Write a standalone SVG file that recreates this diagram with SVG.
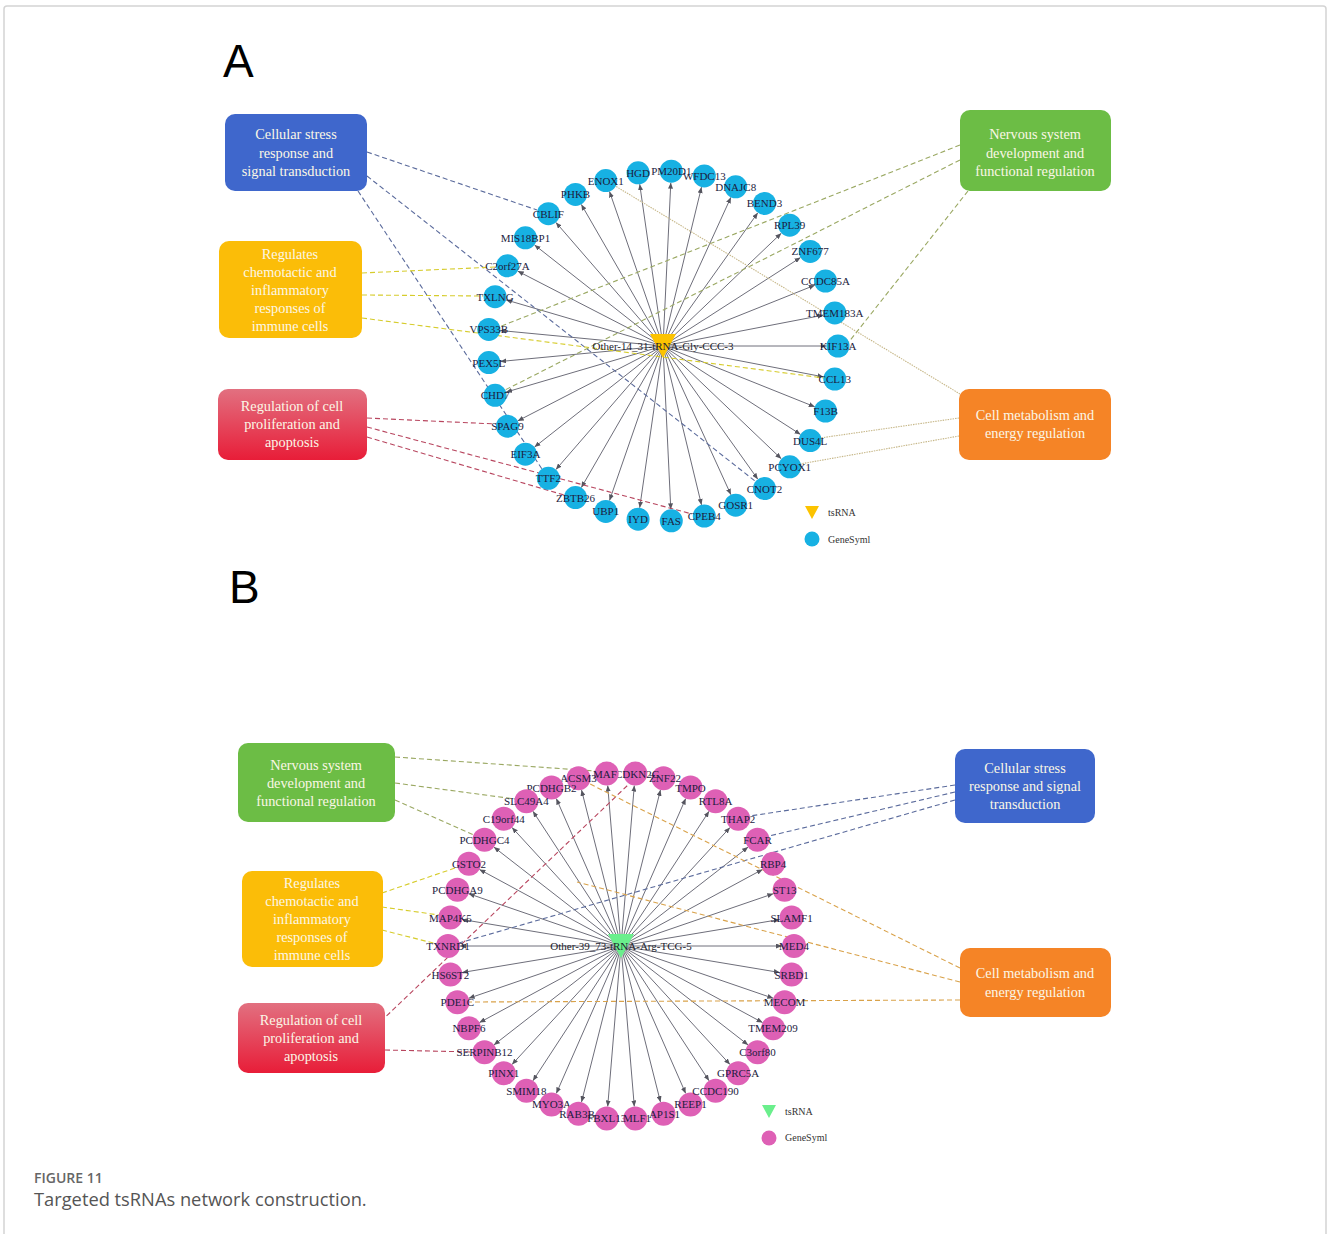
<svg xmlns="http://www.w3.org/2000/svg" width="1328" height="1234" viewBox="0 0 1328 1234">
<style>
.edge{stroke:#6e6e7a;stroke-width:1;fill:none}
.dl{fill:none;stroke-width:1.1;stroke-dasharray:5,3}
.dblue{stroke:#5b6b9c}
.dyel{stroke:#d6cc2c}
.dred{stroke:#b8465f}
.dgrn{stroke:#9aa862}
.dorgA{stroke:#c7b88a;stroke-dasharray:1.5,1}
.dorgB{stroke:#d9a24a}
.ga{fill:#17b1e3}
.gb{fill:#de60b5}
.lbl{font-family:"Liberation Serif","Times New Roman",serif;font-size:11px;fill:#1c1c3e;text-anchor:middle}
.ctr{font-family:"Liberation Serif","Times New Roman",serif;font-size:11px;fill:#1c1c2c;text-anchor:middle}
.bt{font-family:"Liberation Serif","Times New Roman",serif;font-size:14.3px;fill:#fbf7e6;text-anchor:middle}
.leg{font-family:"Liberation Serif","Times New Roman",serif;font-size:10px;fill:#333}
.pl{font-family:"Liberation Sans",Arial,sans-serif;font-size:46px;fill:#000}
</style>
<defs>
<marker id="ar" viewBox="0 0 6 5" markerWidth="6" markerHeight="5" refX="6" refY="2.5" orient="auto" markerUnits="userSpaceOnUse">
<path d="M0,0 L6,2.5 L0,5 z" fill="#55555f"/>
</marker>
<linearGradient id="redg" x1="0" y1="0" x2="0" y2="1">
<stop offset="0" stop-color="#e27080"/>
<stop offset="1" stop-color="#e81d38"/>
</linearGradient>
</defs>
<rect x="4" y="6" width="1322" height="1240" rx="3" fill="#fff" stroke="#d4d4d4" stroke-width="1.5"/>
<text class="pl" x="223" y="77">A</text>
<text class="pl" x="229" y="603">B</text>

<g id="connectors">
<g id="edgesA">
<path class="edge" d="M663,346 L826.5,346" marker-end="url(#ar)"/>
<path class="edge" d="M663,346 L823.5,315.1" marker-end="url(#ar)"/>
<path class="edge" d="M663,346 L814.8,285.2" marker-end="url(#ar)"/>
<path class="edge" d="M663,346 L800.5,257.6" marker-end="url(#ar)"/>
<path class="edge" d="M663,346 L781.3,233.2" marker-end="url(#ar)"/>
<path class="edge" d="M663,346 L757.8,212.8" marker-end="url(#ar)"/>
<path class="edge" d="M663,346 L730.9,197.3" marker-end="url(#ar)"/>
<path class="edge" d="M663,346 L701.5,187.1" marker-end="url(#ar)"/>
<path class="edge" d="M663,346 L670.8,182.7" marker-end="url(#ar)"/>
<path class="edge" d="M663,346 L639.7,184.2" marker-end="url(#ar)"/>
<path class="edge" d="M663,346 L609.5,191.5" marker-end="url(#ar)"/>
<path class="edge" d="M663,346 L581.3,204.4" marker-end="url(#ar)"/>
<path class="edge" d="M663,346 L555.9,222.4" marker-end="url(#ar)"/>
<path class="edge" d="M663,346 L534.5,244.9" marker-end="url(#ar)"/>
<path class="edge" d="M663,346 L517.7,271.1" marker-end="url(#ar)"/>
<path class="edge" d="M663,346 L506.1,299.9" marker-end="url(#ar)"/>
<path class="edge" d="M663,346 L500.2,330.5" marker-end="url(#ar)"/>
<path class="edge" d="M663,346 L500.2,361.5" marker-end="url(#ar)"/>
<path class="edge" d="M663,346 L506.1,392.1" marker-end="url(#ar)"/>
<path class="edge" d="M663,346 L517.7,420.9" marker-end="url(#ar)"/>
<path class="edge" d="M663,346 L534.5,447.1" marker-end="url(#ar)"/>
<path class="edge" d="M663,346 L555.9,469.6" marker-end="url(#ar)"/>
<path class="edge" d="M663,346 L581.3,487.6" marker-end="url(#ar)"/>
<path class="edge" d="M663,346 L609.5,500.5" marker-end="url(#ar)"/>
<path class="edge" d="M663,346 L639.7,507.8" marker-end="url(#ar)"/>
<path class="edge" d="M663,346 L670.8,509.3" marker-end="url(#ar)"/>
<path class="edge" d="M663,346 L701.5,504.9" marker-end="url(#ar)"/>
<path class="edge" d="M663,346 L730.9,494.7" marker-end="url(#ar)"/>
<path class="edge" d="M663,346 L757.8,479.2" marker-end="url(#ar)"/>
<path class="edge" d="M663,346 L781.3,458.8" marker-end="url(#ar)"/>
<path class="edge" d="M663,346 L800.5,434.4" marker-end="url(#ar)"/>
<path class="edge" d="M663,346 L814.8,406.8" marker-end="url(#ar)"/>
<path class="edge" d="M663,346 L823.5,376.9" marker-end="url(#ar)"/>
</g>
<g id="edgesB">
<path class="edge" d="M621,946 L782,946" marker-end="url(#ar)"/>
<path class="edge" d="M621,946 L779.8,919.5" marker-end="url(#ar)"/>
<path class="edge" d="M621,946 L773.3,893.7" marker-end="url(#ar)"/>
<path class="edge" d="M621,946 L762.6,869.4" marker-end="url(#ar)"/>
<path class="edge" d="M621,946 L748.1,847.1" marker-end="url(#ar)"/>
<path class="edge" d="M621,946 L730,827.5" marker-end="url(#ar)"/>
<path class="edge" d="M621,946 L709.1,811.2" marker-end="url(#ar)"/>
<path class="edge" d="M621,946 L685.7,798.6" marker-end="url(#ar)"/>
<path class="edge" d="M621,946 L660.5,789.9" marker-end="url(#ar)"/>
<path class="edge" d="M621,946 L634.3,785.5" marker-end="url(#ar)"/>
<path class="edge" d="M621,946 L607.7,785.5" marker-end="url(#ar)"/>
<path class="edge" d="M621,946 L581.5,789.9" marker-end="url(#ar)"/>
<path class="edge" d="M621,946 L556.3,798.6" marker-end="url(#ar)"/>
<path class="edge" d="M621,946 L532.9,811.2" marker-end="url(#ar)"/>
<path class="edge" d="M621,946 L512,827.5" marker-end="url(#ar)"/>
<path class="edge" d="M621,946 L493.9,847.1" marker-end="url(#ar)"/>
<path class="edge" d="M621,946 L479.4,869.4" marker-end="url(#ar)"/>
<path class="edge" d="M621,946 L468.7,893.7" marker-end="url(#ar)"/>
<path class="edge" d="M621,946 L462.2,919.5" marker-end="url(#ar)"/>
<path class="edge" d="M621,946 L460,946" marker-end="url(#ar)"/>
<path class="edge" d="M621,946 L462.2,972.5" marker-end="url(#ar)"/>
<path class="edge" d="M621,946 L468.7,998.3" marker-end="url(#ar)"/>
<path class="edge" d="M621,946 L479.4,1022.6" marker-end="url(#ar)"/>
<path class="edge" d="M621,946 L493.9,1044.9" marker-end="url(#ar)"/>
<path class="edge" d="M621,946 L512,1064.5" marker-end="url(#ar)"/>
<path class="edge" d="M621,946 L532.9,1080.8" marker-end="url(#ar)"/>
<path class="edge" d="M621,946 L556.3,1093.4" marker-end="url(#ar)"/>
<path class="edge" d="M621,946 L581.5,1102.1" marker-end="url(#ar)"/>
<path class="edge" d="M621,946 L607.7,1106.5" marker-end="url(#ar)"/>
<path class="edge" d="M621,946 L634.3,1106.5" marker-end="url(#ar)"/>
<path class="edge" d="M621,946 L660.5,1102.1" marker-end="url(#ar)"/>
<path class="edge" d="M621,946 L685.7,1093.4" marker-end="url(#ar)"/>
<path class="edge" d="M621,946 L709.1,1080.8" marker-end="url(#ar)"/>
<path class="edge" d="M621,946 L730,1064.5" marker-end="url(#ar)"/>
<path class="edge" d="M621,946 L748.1,1044.9" marker-end="url(#ar)"/>
<path class="edge" d="M621,946 L762.6,1022.6" marker-end="url(#ar)"/>
<path class="edge" d="M621,946 L773.3,998.3" marker-end="url(#ar)"/>
<path class="edge" d="M621,946 L779.8,972.5" marker-end="url(#ar)"/>
</g>
<g id="categoryLinksA">
<path class="dl dblue" d="M367,152 L537,210"/>
<path class="dl dblue" d="M367,176 L755,481"/>
<path class="dl dblue" d="M358,191 L542,469"/>
<path class="dl dyel" d="M362,273 L496,267"/>
<path class="dl dyel" d="M362,295 L483,296"/>
<path class="dl dyel" d="M362,318 L824,378"/>
<path class="dl dred" d="M367,418 L496,424"/>
<path class="dl dred" d="M367,427 L692,514"/>
<path class="dl dred" d="M367,437 L564,495"/>
<path class="dl dgrn" d="M960,145 L499,327"/>
<path class="dl dgrn" d="M960,160 L505,390"/>
<path class="dl dgrn" d="M968,191 L848,343"/>
<path class="dl dorgA" d="M960,394 L612,184"/>
<path class="dl dorgA" d="M959,418 L820,438"/>
<path class="dl dorgA" d="M959,436 L800,464"/>
</g>
<g id="categoryLinksB">
<path class="dl dgrn" d="M395,757 L595,771"/>
<path class="dl dgrn" d="M395,783 L515,799"/>
<path class="dl dgrn" d="M395,800 L474,835"/>
<path class="dl dyel" d="M382,893 L458,867"/>
<path class="dl dyel" d="M382,907 L439,915"/>
<path class="dl dyel" d="M382,930 L437,944"/>
<path class="dl dred" d="M375,1027 L629,784"/>
<path class="dl dred" d="M385,1050 L473,1052"/>
<path class="dl dblue" d="M955,785 L750,816"/>
<path class="dl dblue" d="M955,792 L769,836"/>
<path class="dl dblue" d="M955,800 L459,943"/>
<path class="dl dorgB" d="M960,968 L590,784"/>
<path class="dl dorgB" d="M960,982 L577,882"/>
<path class="dl dorgB" d="M960,1000 L469,1002"/>
</g>
</g>

<g id="nodesA">
<g id="a-KIF13A"><circle class="ga" cx="838" cy="346" r="11.5"/><text class="lbl" x="838" y="350">KIF13A</text></g>
<g id="a-TMEM183A"><circle class="ga" cx="834.8" cy="312.9" r="11.5"/><text class="lbl" x="834.8" y="316.9">TMEM183A</text></g>
<g id="a-CCDC85A"><circle class="ga" cx="825.5" cy="281" r="11.5"/><text class="lbl" x="825.5" y="285">CCDC85A</text></g>
<g id="a-ZNF677"><circle class="ga" cx="810.2" cy="251.4" r="11.5"/><text class="lbl" x="810.2" y="255.4">ZNF677</text></g>
<g id="a-RPL39"><circle class="ga" cx="789.7" cy="225.2" r="11.5"/><text class="lbl" x="789.7" y="229.2">RPL39</text></g>
<g id="a-BEND3"><circle class="ga" cx="764.5" cy="203.4" r="11.5"/><text class="lbl" x="764.5" y="207.4">BEND3</text></g>
<g id="a-DNAJC8"><circle class="ga" cx="735.7" cy="186.8" r="11.5"/><text class="lbl" x="735.7" y="190.8">DNAJC8</text></g>
<g id="a-WFDC13"><circle class="ga" cx="704.3" cy="175.9" r="11.5"/><text class="lbl" x="704.3" y="179.9">WFDC13</text></g>
<g id="a-PM20D1"><circle class="ga" cx="671.3" cy="171.2" r="11.5"/><text class="lbl" x="671.3" y="175.2">PM20D1</text></g>
<g id="a-HGD"><circle class="ga" cx="638.1" cy="172.8" r="11.5"/><text class="lbl" x="638.1" y="176.8">HGD</text></g>
<g id="a-ENOX1"><circle class="ga" cx="605.8" cy="180.6" r="11.5"/><text class="lbl" x="605.8" y="184.6">ENOX1</text></g>
<g id="a-PHKB"><circle class="ga" cx="575.5" cy="194.4" r="11.5"/><text class="lbl" x="575.5" y="198.4">PHKB</text></g>
<g id="a-CBLIF"><circle class="ga" cx="548.4" cy="213.7" r="11.5"/><text class="lbl" x="548.4" y="217.7">CBLIF</text></g>
<g id="a-MIS18BP1"><circle class="ga" cx="525.4" cy="237.8" r="11.5"/><text class="lbl" x="525.4" y="241.8">MIS18BP1</text></g>
<g id="a-C2orf27A"><circle class="ga" cx="507.5" cy="265.8" r="11.5"/><text class="lbl" x="507.5" y="269.8">C2orf27A</text></g>
<g id="a-TXLNG"><circle class="ga" cx="495.1" cy="296.7" r="11.5"/><text class="lbl" x="495.1" y="300.7">TXLNG</text></g>
<g id="a-VPS33B"><circle class="ga" cx="488.8" cy="329.4" r="11.5"/><text class="lbl" x="488.8" y="333.4">VPS33B</text></g>
<g id="a-PEX5L"><circle class="ga" cx="488.8" cy="362.6" r="11.5"/><text class="lbl" x="488.8" y="366.6">PEX5L</text></g>
<g id="a-CHD7"><circle class="ga" cx="495.1" cy="395.3" r="11.5"/><text class="lbl" x="495.1" y="399.3">CHD7</text></g>
<g id="a-SPAG9"><circle class="ga" cx="507.5" cy="426.2" r="11.5"/><text class="lbl" x="507.5" y="430.2">SPAG9</text></g>
<g id="a-EIF3A"><circle class="ga" cx="525.4" cy="454.2" r="11.5"/><text class="lbl" x="525.4" y="458.2">EIF3A</text></g>
<g id="a-TTF2"><circle class="ga" cx="548.4" cy="478.3" r="11.5"/><text class="lbl" x="548.4" y="482.3">TTF2</text></g>
<g id="a-ZBTB26"><circle class="ga" cx="575.5" cy="497.6" r="11.5"/><text class="lbl" x="575.5" y="501.6">ZBTB26</text></g>
<g id="a-UBP1"><circle class="ga" cx="605.8" cy="511.4" r="11.5"/><text class="lbl" x="605.8" y="515.4">UBP1</text></g>
<g id="a-IYD"><circle class="ga" cx="638.1" cy="519.2" r="11.5"/><text class="lbl" x="638.1" y="523.2">IYD</text></g>
<g id="a-FAS"><circle class="ga" cx="671.3" cy="520.8" r="11.5"/><text class="lbl" x="671.3" y="524.8">FAS</text></g>
<g id="a-CPEB4"><circle class="ga" cx="704.3" cy="516.1" r="11.5"/><text class="lbl" x="704.3" y="520.1">CPEB4</text></g>
<g id="a-GOSR1"><circle class="ga" cx="735.7" cy="505.2" r="11.5"/><text class="lbl" x="735.7" y="509.2">GOSR1</text></g>
<g id="a-CNOT2"><circle class="ga" cx="764.5" cy="488.6" r="11.5"/><text class="lbl" x="764.5" y="492.6">CNOT2</text></g>
<g id="a-PCYOX1"><circle class="ga" cx="789.7" cy="466.8" r="11.5"/><text class="lbl" x="789.7" y="470.8">PCYOX1</text></g>
<g id="a-DUS4L"><circle class="ga" cx="810.2" cy="440.6" r="11.5"/><text class="lbl" x="810.2" y="444.6">DUS4L</text></g>
<g id="a-F13B"><circle class="ga" cx="825.5" cy="411" r="11.5"/><text class="lbl" x="825.5" y="415">F13B</text></g>
<g id="a-CCL13"><circle class="ga" cx="834.8" cy="379.1" r="11.5"/><text class="lbl" x="834.8" y="383.1">CCL13</text></g>
<g id="a-tsRNA"><path d="M650,334 L676,334 L663,358 z" fill="#fcc300"/><text class="ctr" x="663" y="350">Other-14_31-tRNA-Gly-CCC-3</text></g>
</g>

<g id="nodesB">
<g id="b-MED4"><circle class="gb" cx="794" cy="946" r="12"/><text class="lbl" x="794" y="950">MED4</text></g>
<g id="b-SLAMF1"><circle class="gb" cx="791.6" cy="917.5" r="12"/><text class="lbl" x="791.6" y="921.5">SLAMF1</text></g>
<g id="b-ST13"><circle class="gb" cx="784.6" cy="889.8" r="12"/><text class="lbl" x="784.6" y="893.8">ST13</text></g>
<g id="b-RBP4"><circle class="gb" cx="773.1" cy="863.7" r="12"/><text class="lbl" x="773.1" y="867.7">RBP4</text></g>
<g id="b-FCAR"><circle class="gb" cx="757.5" cy="839.7" r="12"/><text class="lbl" x="757.5" y="843.7">FCAR</text></g>
<g id="b-THAP2"><circle class="gb" cx="738.2" cy="818.7" r="12"/><text class="lbl" x="738.2" y="822.7">THAP2</text></g>
<g id="b-RTL8A"><circle class="gb" cx="715.6" cy="801.2" r="12"/><text class="lbl" x="715.6" y="805.2">RTL8A</text></g>
<g id="b-TMPO"><circle class="gb" cx="690.5" cy="787.6" r="12"/><text class="lbl" x="690.5" y="791.6">TMPO</text></g>
<g id="b-ZNF22"><circle class="gb" cx="663.5" cy="778.3" r="12"/><text class="lbl" x="665" y="782.3">ZNF22</text></g>
<g id="b-CDKN2C"><circle class="gb" cx="635.3" cy="773.6" r="12"/><text class="lbl" x="637" y="777.6">CDKN2C</text></g>
<g id="b-MAF"><circle class="gb" cx="606.7" cy="773.6" r="12"/><text class="lbl" x="605" y="777.6">MAF</text></g>
<g id="b-ACSM3"><circle class="gb" cx="578.5" cy="778.3" r="12"/><text class="lbl" x="578.5" y="782.3">ACSM3</text></g>
<g id="b-PCDHGB2"><circle class="gb" cx="551.5" cy="787.6" r="12"/><text class="lbl" x="551.5" y="791.6">PCDHGB2</text></g>
<g id="b-SLC49A4"><circle class="gb" cx="526.4" cy="801.2" r="12"/><text class="lbl" x="526.4" y="805.2">SLC49A4</text></g>
<g id="b-C19orf44"><circle class="gb" cx="503.8" cy="818.7" r="12"/><text class="lbl" x="503.8" y="822.7">C19orf44</text></g>
<g id="b-PCDHGC4"><circle class="gb" cx="484.5" cy="839.7" r="12"/><text class="lbl" x="484.5" y="843.7">PCDHGC4</text></g>
<g id="b-GSTO2"><circle class="gb" cx="468.9" cy="863.7" r="12"/><text class="lbl" x="468.9" y="867.7">GSTO2</text></g>
<g id="b-PCDHGA9"><circle class="gb" cx="457.4" cy="889.8" r="12"/><text class="lbl" x="457.4" y="893.8">PCDHGA9</text></g>
<g id="b-MAP4K5"><circle class="gb" cx="450.4" cy="917.5" r="12"/><text class="lbl" x="450.4" y="921.5">MAP4K5</text></g>
<g id="b-TXNRD1"><circle class="gb" cx="448" cy="946" r="12"/><text class="lbl" x="448" y="950">TXNRD1</text></g>
<g id="b-HS6ST2"><circle class="gb" cx="450.4" cy="974.5" r="12"/><text class="lbl" x="450.4" y="978.5">HS6ST2</text></g>
<g id="b-PDE1C"><circle class="gb" cx="457.4" cy="1002.2" r="12"/><text class="lbl" x="457.4" y="1006.2">PDE1C</text></g>
<g id="b-NBPF6"><circle class="gb" cx="468.9" cy="1028.3" r="12"/><text class="lbl" x="468.9" y="1032.3">NBPF6</text></g>
<g id="b-SERPINB12"><circle class="gb" cx="484.5" cy="1052.3" r="12"/><text class="lbl" x="484.5" y="1056.3">SERPINB12</text></g>
<g id="b-PINX1"><circle class="gb" cx="503.8" cy="1073.3" r="12"/><text class="lbl" x="503.8" y="1077.3">PINX1</text></g>
<g id="b-SMIM18"><circle class="gb" cx="526.4" cy="1090.8" r="12"/><text class="lbl" x="526.4" y="1094.8">SMIM18</text></g>
<g id="b-MYO3A"><circle class="gb" cx="551.5" cy="1104.4" r="12"/><text class="lbl" x="551.5" y="1108.4">MYO3A</text></g>
<g id="b-RAB3B"><circle class="gb" cx="578.5" cy="1113.7" r="12"/><text class="lbl" x="577" y="1117.7">RAB3B</text></g>
<g id="b-FBXL13"><circle class="gb" cx="606.7" cy="1118.4" r="12"/><text class="lbl" x="606.7" y="1122.4">FBXL13</text></g>
<g id="b-MLF1"><circle class="gb" cx="635.3" cy="1118.4" r="12"/><text class="lbl" x="637" y="1122.4">MLF1</text></g>
<g id="b-AP1S1"><circle class="gb" cx="663.5" cy="1113.7" r="12"/><text class="lbl" x="664.5" y="1117.7">AP1S1</text></g>
<g id="b-REEP1"><circle class="gb" cx="690.5" cy="1104.4" r="12"/><text class="lbl" x="690.5" y="1108.4">REEP1</text></g>
<g id="b-CCDC190"><circle class="gb" cx="715.6" cy="1090.8" r="12"/><text class="lbl" x="715.6" y="1094.8">CCDC190</text></g>
<g id="b-GPRC5A"><circle class="gb" cx="738.2" cy="1073.3" r="12"/><text class="lbl" x="738.2" y="1077.3">GPRC5A</text></g>
<g id="b-C3orf80"><circle class="gb" cx="757.5" cy="1052.3" r="12"/><text class="lbl" x="757.5" y="1056.3">C3orf80</text></g>
<g id="b-TMEM209"><circle class="gb" cx="773.1" cy="1028.3" r="12"/><text class="lbl" x="773.1" y="1032.3">TMEM209</text></g>
<g id="b-MECOM"><circle class="gb" cx="784.6" cy="1002.2" r="12"/><text class="lbl" x="784.6" y="1006.2">MECOM</text></g>
<g id="b-SRBD1"><circle class="gb" cx="791.6" cy="974.5" r="12"/><text class="lbl" x="791.6" y="978.5">SRBD1</text></g>
<g id="b-tsRNA"><path d="M608,934 L634,934 L621,958 z" fill="#6aef8c"/><text class="ctr" x="621" y="950">Other-39_73-tRNA-Arg-TCG-5</text></g>
</g>

<g id="catA-stress"><rect x="225" y="114" width="142" height="77" rx="10" fill="#3f67cc"/><text class="bt" x="296" y="139">Cellular stress</text><text class="bt" x="296" y="158">response and</text><text class="bt" x="296" y="176">signal transduction</text></g>
<g id="catA-immune"><rect x="219" y="241" width="143" height="97" rx="10" fill="#fbbd08"/><text class="bt" x="290" y="259">Regulates</text><text class="bt" x="290" y="277">chemotactic and</text><text class="bt" x="290" y="295">inflammatory</text><text class="bt" x="290" y="313">responses of</text><text class="bt" x="290" y="331">immune cells</text></g>
<g id="catA-prolif"><rect x="218" y="389" width="149" height="71" rx="10" fill="url(#redg)"/><text class="bt" x="292" y="411">Regulation of cell</text><text class="bt" x="292" y="429">proliferation and</text><text class="bt" x="292" y="447">apoptosis</text></g>
<g id="catA-nervous"><rect x="960" y="110" width="151" height="81" rx="10" fill="#6cbd45"/><text class="bt" x="1035" y="139">Nervous system</text><text class="bt" x="1035" y="158">development and</text><text class="bt" x="1035" y="176">functional regulation</text></g>
<g id="catA-metab"><rect x="959" y="389" width="152" height="71" rx="10" fill="#f58426"/><text class="bt" x="1035" y="420">Cell metabolism and</text><text class="bt" x="1035" y="438">energy regulation</text></g>

<g id="catB-nervous"><rect x="238" y="743" width="157" height="79" rx="10" fill="#6cbd45"/><text class="bt" x="316" y="770">Nervous system</text><text class="bt" x="316" y="788">development and</text><text class="bt" x="316" y="806">functional regulation</text></g>
<g id="catB-immune"><rect x="242" y="871" width="141" height="96" rx="10" fill="#fbbd08"/><text class="bt" x="312" y="888">Regulates</text><text class="bt" x="312" y="906">chemotactic and</text><text class="bt" x="312" y="924">inflammatory</text><text class="bt" x="312" y="942">responses of</text><text class="bt" x="312" y="960">immune cells</text></g>
<g id="catB-prolif"><rect x="238" y="1003" width="147" height="70" rx="10" fill="url(#redg)"/><text class="bt" x="311" y="1025">Regulation of cell</text><text class="bt" x="311" y="1043">proliferation and</text><text class="bt" x="311" y="1061">apoptosis</text></g>
<g id="catB-stress"><rect x="955" y="749" width="140" height="74" rx="10" fill="#3f67cc"/><text class="bt" x="1025" y="773">Cellular stress</text><text class="bt" x="1025" y="791">response and signal</text><text class="bt" x="1025" y="809">transduction</text></g>
<g id="catB-metab"><rect x="960" y="948" width="151" height="69" rx="10" fill="#f58426"/><text class="bt" x="1035" y="978">Cell metabolism and</text><text class="bt" x="1035" y="997">energy regulation</text></g>

<g id="legendA">
<path d="M805,506 L819,506 L812,519 z" fill="#fcc300"/><text class="leg" x="828" y="516">tsRNA</text>
<circle cx="812" cy="539" r="7.5" fill="#17b1e3"/><text class="leg" x="828" y="543">GeneSyml</text>
</g>
<g id="legendB">
<path d="M762,1105 L776,1105 L769,1118 z" fill="#6aef8c"/><text class="leg" x="785" y="1115">tsRNA</text>
<circle cx="769" cy="1138" r="7.5" fill="#de60b5"/><text class="leg" x="785" y="1141">GeneSyml</text>
</g>

<g id="caption">
<text x="34" y="1183" font-family="'Open Sans','Liberation Sans',sans-serif" font-size="14" font-weight="600" fill="#666">FIGURE 11</text>
<text x="34" y="1206" font-family="'Open Sans','Liberation Sans',sans-serif" font-size="18.3" fill="#555">Targeted tsRNAs network construction.</text>
</g>
</svg>
